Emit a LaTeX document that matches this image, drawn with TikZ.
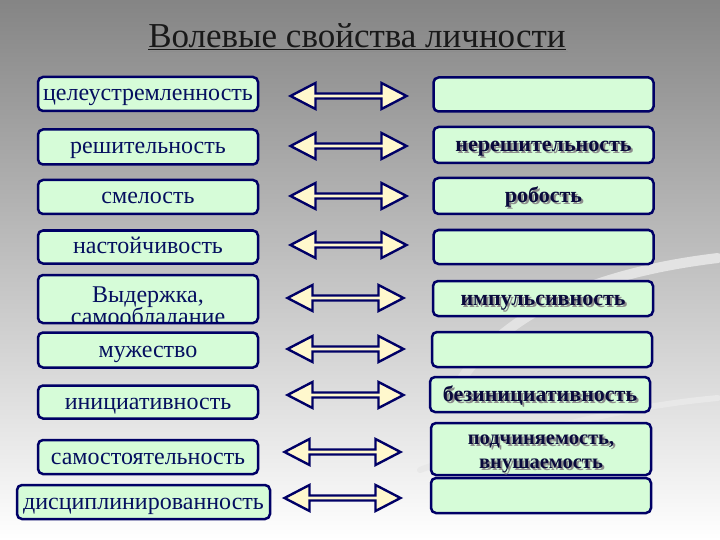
\documentclass[tikz,border=0pt]{standalone}
\usepackage{fontspec}
\setmainfont{Liberation Serif}[Script=Cyrillic]
\usetikzlibrary{positioning,shapes.arrows}
\definecolor{navy}{RGB}{0,0,102}
\definecolor{boxfill}{RGB}{214,252,216}
\definecolor{arrfill}{RGB}{255,248,205}
\definecolor{ltext}{RGB}{5,15,95}
\definecolor{rtext}{RGB}{10,10,60}
\newcommand\shd[1]{\leavevmode\rlap{\raisebox{-2pt}{\kern2pt\textcolor{black!45}{#1}}}#1}

\begin{document}
\begin{tikzpicture}[x=1pt, y=-1pt,
    lbox/.style={draw=navy, line width=2.5pt, rounded corners=5pt, fill=boxfill,
                 minimum width=220pt, minimum height=34pt, inner sep=0pt,
                 text height=17pt, text depth=3pt,
                 align=center, font=\fontsize{24}{24}\selectfont, text=ltext},
    rbox/.style={lbox, font=\fontsize{22}{22}\selectfont\bfseries, text=rtext},
    ltxt/.style={inner sep=0pt, anchor=base, text height={}, text depth={},
                 font=\fontsize{24}{24}\selectfont, text=ltext},
    rtxt/.style={inner sep=0pt, anchor=base, text height={}, text depth={},
                 font=\fontsize{20.5}{23}\selectfont\bfseries, text=rtext},
    dbl/.style={double arrow, draw=navy, line width=2.4pt, fill=arrfill, inner sep=0pt,
                minimum height=116pt, minimum width=26pt,
                double arrow head extend=5pt, double arrow tip angle=55}
  ]
  % --- background ---
  \shade[top color=black!48, middle color=black!14, bottom color=white]
    (0,0) rectangle (720,540);
  \useasboundingbox (0,0) rectangle (720,540);
  \draw[black!11, line width=10pt, line cap=round]
    (718,258) .. controls (600,272) and (500,310) .. (455,390);
  \draw[black!9, line width=6pt, line cap=round]
    (420,470) .. controls (540,425) and (640,405) .. (718,398);

  % --- title ---
  \node[font=\fontsize{35}{36}\selectfont, text=black!90] (title) at (357,38)
    {\shd{\underline{Волевые свойства личности}}};

  % --- left column ---
  \node[lbox] (l1) at (148,94)  {целеустремленность};
  \node[lbox, minimum height=35pt] (l2) at (148,147) {решительность};
  \node[lbox] (l3) at (148,197) {смелость};
  \node[lbox, minimum height=33pt] (l4) at (148,247) {настойчивость};
  \node[lbox, minimum height=48pt, path picture={
      \node[ltxt] (l5a) at ([yshift=-3pt]path picture bounding box.center) {Выдержка,};
      \node[ltxt] (l5b) at ([yshift=-25pt]path picture bounding box.center) {самообладание};}]
    (l5) at (148,299) {};
  \node[lbox, minimum height=35pt] (l6) at (148,350) {мужество};
  \node[lbox, minimum height=33pt] (l7) at (148,402) {инициативность};
  \node[lbox] (l8) at (148,457) {самостоятельность};
  \node[lbox, minimum width=253pt] (l9) at (143.5,502) {дисциплинированность};

  % --- right column ---
  \node[rbox] (r1) at (543.5,94.5) {};
  \node[rbox, minimum height=36pt] (r2) at (543.5,145) {\shd{нерешительность}};
  \node[rbox, minimum height=36pt] (r3) at (543.5,196) {\shd{робость}};
  \node[rbox] (r4) at (543.5,247) {};
  \node[rbox, minimum height=35pt] (r5) at (543,298.5) {\shd{импульсивность}};
  \node[rbox, minimum height=35pt] (r6) at (542,349.5) {};
  \node[rbox, minimum height=35pt] (r7) at (540,394.5) {\shd{безинициативность}};
  \node[rbox, minimum height=52pt] (r8) at (541,449) {};
  \node[rtxt] (r8a) at (541,444) {\shd{подчиняемость,}};
  \node[rtxt] (r8b) at (541,468) {\shd{внушаемость}};
  \node[rbox, minimum height=35pt] (r9) at (541,495.5) {};

  % --- arrows ---
  \node[dbl] (a1) at (348.5,96)  {};
  \node[dbl] (a2) at (348.5,146) {};
  \node[dbl] (a3) at (348.5,196) {};
  \node[dbl] (a4) at (348.5,245) {};
  \node[dbl] (a5) at (345.5,298) {};
  \node[dbl] (a6) at (345.5,349) {};
  \node[dbl] (a7) at (345.5,395) {};
  \node[dbl] (a8) at (342.5,452) {};
  \node[dbl] (a9) at (342.5,498) {};
\end{tikzpicture}
\end{document}
